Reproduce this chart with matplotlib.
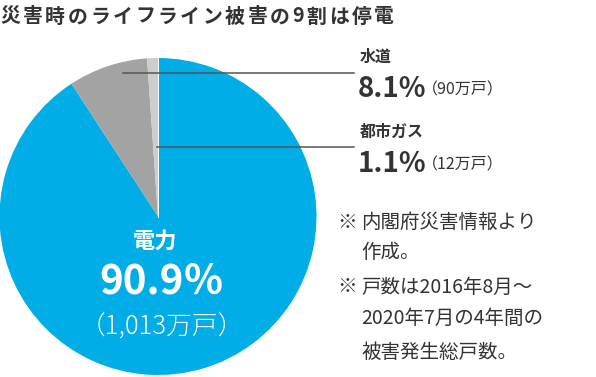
import matplotlib
matplotlib.use('Agg')
import matplotlib.pyplot as plt
import unicodedata

plt.rcParams['font.family'] = ['Noto Sans CJK JP', 'DejaVu Sans']

# data
labels = ['電力', '水道', '都市ガス']
shares = [90.9, 8.1, 1.1]
households = ['1,013万戸', '90万戸', '12万戸']
colors = ['#00ade6', '#a3a3a3', '#cdcdcd']
title = '災害時のライフライン被害の9割は停電'
notes = ['※', '内閣府災害情報より', '作成。', '※', '戸数は2016年8月～',
         '2020年7月の4年間の', '被害発生総戸数。']

W, H = 596, 377
fig = plt.figure(figsize=(W / 100, H / 100), dpi=100)
ax = fig.add_axes([0, 0, 1, 1])


def Y(y):
    # image pixel row -> data y
    return H - y


txt = '#333333'
cx, cy, r = 158, Y(216.5), 158.5

ax.pie(shares, colors=colors, startangle=90, counterclock=False,
       center=(cx, cy), radius=r, frame=True,
       wedgeprops=dict(linewidth=0))
# thin white separator at 12 o'clock
ax.plot([cx, cx], [cy, cy + r], color='white', lw=0.7)
ax.set_xlim(0, W)
ax.set_ylim(0, H)
ax.set_aspect('equal')
ax.axis('off')

# title, letter-spaced (wide chars 22.5px pitch, narrow ~14px)
x = 0
for ch in title:
    ax.text(x, Y(16), ch, fontsize=14.3, fontweight='bold', color=txt,
            ha='left', va='center')
    x += 22.5 if unicodedata.east_asian_width(ch) in 'WF' else 14

# leader lines
ax.plot([123, 354], [Y(73), Y(73)], color='#555555', lw=1.1)
ax.plot([157, 354], [Y(147), Y(147)], color='#555555', lw=1.1)

# side labels
ax.text(360, Y(57), labels[1], fontsize=11.5, fontweight='bold', color=txt, va='center')
ax.text(358, Y(89), '%.1f%%' % shares[1], fontsize=20, fontweight='bold', color=txt, va='center')
ax.text(422, Y(90), '（%s）' % households[1], fontsize=11.5, color=txt, va='center')
ax.text(360, Y(132), labels[2], fontsize=11.5, fontweight='bold', color=txt, va='center')
ax.text(358, Y(164), '%.1f%%' % shares[2], fontsize=20, fontweight='bold', color=txt, va='center')
ax.text(422, Y(165), '（%s）' % households[2], fontsize=11.5, color=txt, va='center')

# centre label
ax.text(155, Y(241), labels[0], fontsize=16, fontweight='bold', color='white',
        ha='center', va='center')
ax.text(162, Y(282), '%.1f％' % shares[0], fontsize=29, fontweight='bold', color='white',
        ha='center', va='center')
ax.text(162, Y(327), '（%s）' % households[0], fontsize=18.5, fontweight='light',
        color='white', ha='center', va='center')

# notes
ax.text(337, Y(222), notes[0], fontsize=14, color=txt, va='center')
ax.text(361, Y(222), notes[1], fontsize=14, color=txt, va='center')
ax.text(361, Y(253), notes[2], fontsize=14, color=txt, va='center')
ax.text(337, Y(287), notes[3], fontsize=14, color=txt, va='center')
ax.text(361, Y(287), notes[4], fontsize=14, color=txt, va='center')
ax.text(361, Y(318), notes[5], fontsize=14, color=txt, va='center')
ax.text(361, Y(352), notes[6], fontsize=14, color=txt, va='center')

fig.savefig('out.png', dpi=100)
